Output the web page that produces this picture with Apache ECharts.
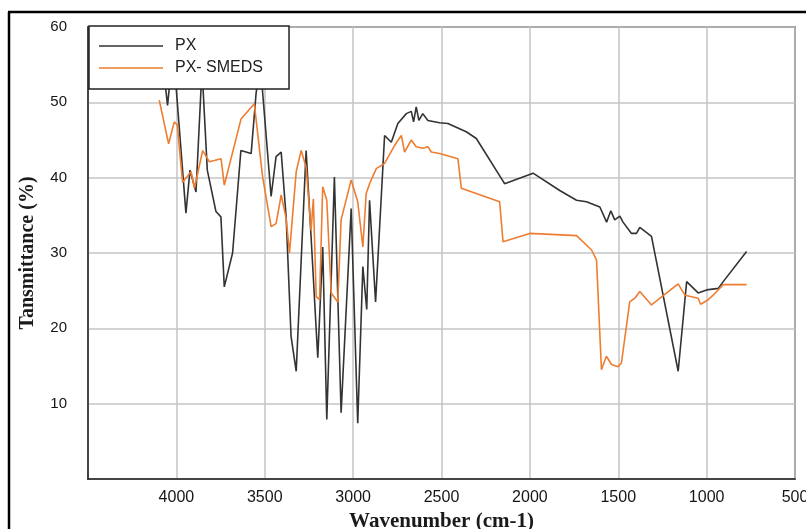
<!DOCTYPE html>
<html>
<head>
<meta charset="utf-8">
<script src="https://cdn.jsdelivr.net/npm/echarts@6/dist/echarts.min.js"></script>
<style>
html,body{margin:0;padding:0;background:#fff;overflow:hidden;}
#chart{width:806px;height:529px;}
</style>
</head>
<body>
<div id="chart"></div>
<script>
// Wavenumber (cm-1) and transmittance (%)
var pxWave = [4085,4050,4018,3946,3923,3889,3855,3825,3776,3748,3729,3682,3635,3577,3549,3530,3513,3464,3436,3407,3379,3351,3322,3266,3238,3200,3172,3149,3106,3068,3011,2974,2945,2923,2907,2873,2822,2784,2747,2699,2671,2658,2643,2628,2606,2577,2511,2464,2360,2303,2143,1982,1831,1736,1680,1604,1566,1542,1520,1491,1473,1425,1397,1378,1312,1161,1113,1048,1000,934,906,774];
var pxTrans = [57,49.6,57,35.3,41.0,38.1,54.5,41.0,35.5,34.8,25.5,30.0,43.6,43.2,51.2,54.5,51.6,37.5,42.8,43.4,34.8,18.9,14.3,43.6,32.2,16.1,30.8,7.9,40.1,8.8,35.9,7.4,28.2,22.5,37.0,23.5,45.6,44.7,47.2,48.5,48.8,47.4,49.4,47.6,48.5,47.6,47.3,47.2,46.1,45.2,39.2,40.6,38.3,37.0,36.8,36.1,34.1,35.6,34.4,34.9,34.1,32.6,32.6,33.4,32.2,14.3,26.2,24.7,25.1,25.3,26.2,30.2];

var smedsWave = [4097,4044,4012,3995,3965,3917,3898,3851,3813,3747,3729,3634,3559,3512,3464,3436,3407,3379,3360,3322,3294,3266,3238,3225,3209,3190,3172,3149,3124,3087,3068,3011,2974,2945,2926,2907,2869,2822,2765,2727,2709,2671,2643,2606,2577,2558,2511,2407,2388,2171,2152,2001,1736,1651,1623,1595,1567,1538,1501,1482,1435,1406,1378,1312,1161,1123,1048,1034,991,963,906,774];
var smedsTrans = [50.3,44.5,47.4,47.0,39.4,40.8,38.6,43.6,42.1,42.5,39.0,47.8,49.8,40.1,33.5,33.9,37.7,34.6,30.0,40.8,43.6,41.4,33.0,37.2,24.2,23.8,38.8,37.0,24.7,23.5,34.4,39.7,36.8,30.8,37.9,39.2,41.2,41.9,44.3,45.6,43.4,45.0,44.1,43.9,44.1,43.4,43.2,42.5,38.6,36.8,31.5,32.6,32.3,30.4,29.1,14.5,16.3,15.2,14.9,15.4,23.5,24.0,24.9,23.1,25.9,24.4,24.0,23.2,23.8,24.4,25.8,25.8];

var seriesNames = ['PX', 'PX- SMEDS'];
var xTicks = {min: 500, max: 4500, step: 500};
var yTicks = {min: 0, max: 60, step: 10};

function pairs(xs, ys) {
  return xs.map(function (x, i) { return [x, ys[i]]; });
}

// thin horizontal bar icon, with invisible specks to keep full item height
var lineIcon = 'path://M0,6.2H64V7.8H0Z M0,0H0.01V0.01H0Z M0,14H0.01V13.99H0Z';

var chart = echarts.init(document.getElementById('chart'), null, {renderer: 'canvas'});
chart.setOption({
  animation: false,
  backgroundColor: '#ffffff',
  grid: {
    left: 88, right: 11, top: 27, bottom: 50,
    containLabel: false, outerBoundsMode: 'none',
    show: true, borderColor: '#333', borderWidth: 1.5, backgroundColor: 'transparent'
  },
  legend: {
    left: 89, top: 26, orient: 'vertical',
    backgroundColor: '#ffffff', borderColor: '#222', borderWidth: 1.5, borderRadius: 0,
    padding: [12, 26, 13, 10],
    itemWidth: 64, itemHeight: 14, itemGap: 6,
    textStyle: {fontSize: 16, fontFamily: 'Liberation Sans', color: '#222', padding: [0, 0, 0, 7]},
    data: [
      {name: seriesNames[0], icon: lineIcon, itemStyle: {color: '#333333'}},
      {name: seriesNames[1], icon: lineIcon, itemStyle: {color: '#ED7D31'}}
    ]
  },
  xAxis: {
    type: 'value', inverse: true,
    min: xTicks.min, max: xTicks.max, interval: xTicks.step,
    name: 'Wavenumber (cm-1)', nameLocation: 'middle', nameGap: 31,
    nameTextStyle: {fontFamily: 'Liberation Serif', fontWeight: 'bold', fontSize: 21, color: '#1a1a1a'},
    axisLine: {show: true, lineStyle: {color: '#222', width: 1.5}},
    axisTick: {show: false},
    axisLabel: {
      fontFamily: 'Liberation Sans', fontSize: 16, color: '#151515', margin: 11,
      formatter: function (v) { return v === xTicks.max ? '' : String(v); }
    },
    splitLine: {show: true, lineStyle: {color: '#c4c4c4', width: 1.5}}
  },
  yAxis: {
    type: 'value',
    min: yTicks.min, max: yTicks.max, interval: yTicks.step,
    name: 'Tansmittance (%)', nameLocation: 'middle', nameGap: 50,
    nameTextStyle: {fontFamily: 'Liberation Serif', fontWeight: 'bold', fontSize: 20, color: '#1a1a1a'},
    axisLine: {show: true, lineStyle: {color: '#222', width: 1.5}},
    axisTick: {show: false},
    axisLabel: {
      fontFamily: 'Liberation Sans', fontSize: 15, color: '#151515', margin: 21,
      formatter: function (v) { return v === yTicks.min ? '' : String(v); }
    },
    splitLine: {show: true, lineStyle: {color: '#c4c4c4', width: 1.5}}
  },
  graphic: [
    {type: 'line', shape: {x1: 8, y1: 12, x2: 806, y2: 12}, style: {stroke: '#000', lineWidth: 2.5}},
    {type: 'line', shape: {x1: 9, y1: 12, x2: 9, y2: 529}, style: {stroke: '#000', lineWidth: 2.5}}
  ],
  series: [
    {
      name: seriesNames[0], type: 'line', symbol: 'none',
      data: pairs(pxWave, pxTrans),
      lineStyle: {color: '#333333', width: 1.6}, itemStyle: {color: '#333333'}
    },
    {
      name: seriesNames[1], type: 'line', symbol: 'none',
      data: pairs(smedsWave, smedsTrans),
      lineStyle: {color: '#ED7D31', width: 1.6}, itemStyle: {color: '#ED7D31'}
    }
  ]
});
</script>
</body>
</html>
